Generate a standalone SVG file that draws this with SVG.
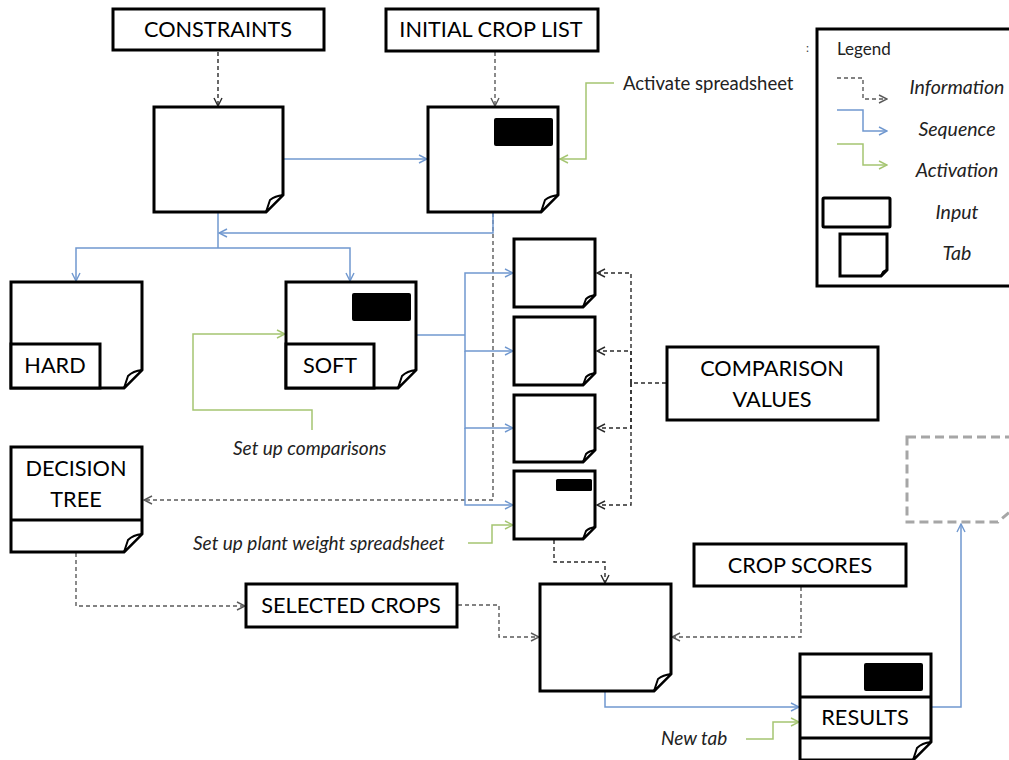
<svg xmlns="http://www.w3.org/2000/svg" width="1009" height="760" viewBox="0 0 1009 760">
<defs>
<style>
.box{fill:#fff;stroke:#000;stroke-width:3}
.fold{fill:#fff;stroke:#000;stroke-width:2;stroke-linejoin:round}
.blk{fill:#000}
.lbl{font-family:Lato,"Liberation Sans",sans-serif;font-size:21.7px;fill:#000;text-anchor:middle}
.it{font-family:Lato,"Liberation Sans",sans-serif;font-size:19px;font-style:italic;fill:#222}
.nt{font-family:Lato,"Liberation Sans",sans-serif;font-size:18.5px;fill:#222}
.lg{font-family:Lato,"Liberation Sans",sans-serif;font-size:19.5px;font-style:italic;fill:#222;text-anchor:middle}
.seq{fill:none;stroke:#7098cf;stroke-width:1.5}
.act{fill:none;stroke:#a5c571;stroke-width:1.5}
.inf{fill:none;stroke:#5a5a5a;stroke-width:1.4;stroke-dasharray:4 3}
.infk{fill:none;stroke:#2a2a2a;stroke-width:1.4;stroke-dasharray:4 3}
</style>
<marker id="aB" viewBox="0 0 10 10" refX="9" refY="5" markerWidth="10" markerHeight="10" markerUnits="userSpaceOnUse" orient="auto"><path d="M1,1 L9,5 L1,9" fill="none" stroke="#7098cf" stroke-width="1.4"/></marker>
<marker id="aG" viewBox="0 0 10 10" refX="9" refY="5" markerWidth="10" markerHeight="10" markerUnits="userSpaceOnUse" orient="auto"><path d="M1,1 L9,5 L1,9" fill="none" stroke="#a5c571" stroke-width="1.4"/></marker>
<marker id="aI" viewBox="0 0 10 10" refX="9" refY="5" markerWidth="10" markerHeight="10" markerUnits="userSpaceOnUse" orient="auto"><path d="M1,1 L9,5 L1,9" fill="none" stroke="#5a5a5a" stroke-width="1.4"/></marker>
<marker id="aK" viewBox="0 0 10 10" refX="9" refY="5" markerWidth="10" markerHeight="10" markerUnits="userSpaceOnUse" orient="auto"><path d="M1,1 L9,5 L1,9" fill="none" stroke="#2a2a2a" stroke-width="1.4"/></marker>
</defs>
<rect width="1009" height="760" fill="#fff"/>

<g id="connectors">
<path class="infk" d="M218,52 V106" marker-end="url(#aK)"/>
<path class="inf" d="M495,52 V106" marker-end="url(#aI)"/>
<path class="seq" d="M284,159 H427" marker-end="url(#aB)"/>
<path class="act" d="M614,83 H586 V159 H560" marker-end="url(#aG)"/>
<path class="inf" d="M493,213 V500 H144" marker-end="url(#aI)"/>
<path class="seq" d="M493,213 V233 H219" marker-end="url(#aB)"/>
<path class="seq" d="M218,213 V248"/>
<path class="seq" d="M218,248 H76 V281" marker-end="url(#aB)"/>
<path class="seq" d="M218,248 H350 V281" marker-end="url(#aB)"/>
<path class="seq" d="M417,335 H465"/>
<path class="seq" d="M465,335 V273 H513" marker-end="url(#aB)"/>
<path class="seq" d="M465,335 V351 H513" marker-end="url(#aB)"/>
<path class="seq" d="M465,351 V428 H513" marker-end="url(#aB)"/>
<path class="seq" d="M465,428 V505 H513" marker-end="url(#aB)"/>
<path class="infk" d="M666,383 H631"/>
<path class="infk" d="M631,383 V273 H597" marker-end="url(#aK)"/>
<path class="infk" d="M631,383 V351 H597" marker-end="url(#aK)"/>
<path class="infk" d="M631,383 V428 H597" marker-end="url(#aK)"/>
<path class="infk" d="M631,383 V505 H597" marker-end="url(#aK)"/>
<path class="act" d="M312,430 V410 H193 V334 H285" marker-end="url(#aG)"/>
<path class="act" d="M468,543 H492 V525 H513" marker-end="url(#aG)"/>
<path class="inf" d="M76,553 V606 H245" marker-end="url(#aI)"/>
<path class="inf" d="M458,605 H499 V637 H539" marker-end="url(#aI)"/>
<path class="infk" d="M554,540 V562 H605 V583" marker-end="url(#aK)"/>
<path class="inf" d="M801,587 V637 H672" marker-end="url(#aI)"/>
<path class="seq" d="M605,692 V707 H799" marker-end="url(#aB)"/>
<path class="act" d="M746,739 H773 V722 H799" marker-end="url(#aG)"/>
<path class="seq" d="M932,707 H961 V524" marker-end="url(#aB)"/>
</g>

<g id="constraints">
<rect class="box" x="113" y="9" width="211" height="41"/>
<text class="lbl" x="218" y="37">CONSTRAINTS</text>
</g>
<g id="initial-crop-list">
<rect class="box" x="386" y="9" width="212" height="42"/>
<text class="lbl" x="491" y="37">INITIAL CROP LIST</text>
</g>

<g id="constraints-tab">
<path class="box" d="M154,107 H283 V195 L266,212 H154 Z"/>
<path class="fold" d="M266,212 L270,200 Q275,196 283,195 Z"/>
</g>
<g id="initial-tab">
<path class="box" d="M428,107 H558 V195 L541,212 H428 Z"/>
<path class="fold" d="M541,212 L545,200 Q550,196 558,195 Z"/>
<rect class="blk" x="494" y="118" width="59" height="28" rx="2"/>
</g>

<g id="hard">
<path class="box" d="M11,282 H142 V370 L124,388 H11 Z"/>
<path class="fold" d="M124,388 L128,376 Q133,371 142,370 Z"/>
<rect class="box" x="11" y="344" width="89" height="44"/>
<text class="lbl" x="55" y="373">HARD</text>
</g>
<g id="soft">
<path class="box" d="M286,282 H416 V370 L398,388 H286 Z"/>
<path class="fold" d="M398,388 L402,376 Q407,371 416,370 Z"/>
<rect class="blk" x="352" y="293" width="59" height="28" rx="2"/>
<rect class="box" x="286" y="344" width="88" height="44"/>
<text class="lbl" x="330" y="373">SOFT</text>
</g>
<g id="decision-tree">
<path class="box" d="M11,447 H142 V534 L124,552 H11 Z"/>
<path class="fold" d="M124,552 L128,540 Q133,535 142,534 Z"/>
<line x1="11" y1="520" x2="142" y2="520" stroke="#000" stroke-width="3"/>
<text class="lbl" x="76" y="476">DECISION</text>
<text class="lbl" x="76" y="507">TREE</text>
</g>

<g id="tab1">
<path class="box" d="M514,239 H595 V295 L583,307 H514 Z"/>
<path class="fold" d="M583,307 L586,299 Q589,296 595,295 Z"/>
</g>
<g id="tab2">
<path class="box" d="M514,317 H595 V373 L583,385 H514 Z"/>
<path class="fold" d="M583,385 L586,377 Q589,374 595,373 Z"/>
</g>
<g id="tab3">
<path class="box" d="M514,395 H595 V450 L583,462 H514 Z"/>
<path class="fold" d="M583,462 L586,454 Q589,451 595,450 Z"/>
</g>
<g id="tab4">
<path class="box" d="M514,471 H595 V527 L583,539 H514 Z"/>
<path class="fold" d="M583,539 L586,531 Q589,528 595,527 Z"/>
<rect class="blk" x="556" y="479" width="36" height="12" rx="1.5"/>
</g>

<g id="comparison-values">
<rect class="box" x="667" y="347" width="211" height="73"/>
<text class="lbl" x="772" y="376">COMPARISON</text>
<text class="lbl" x="772" y="407">VALUES</text>
</g>
<g id="selected-crops">
<rect class="box" x="246" y="584" width="211" height="43"/>
<text class="lbl" x="351" y="613">SELECTED CROPS</text>
</g>
<g id="crop-scores">
<rect class="box" x="694" y="544" width="212" height="42"/>
<text class="lbl" x="800" y="573">CROP SCORES</text>
</g>
<g id="score-tab">
<path class="box" d="M540,584 H671 V674 L654,691 H540 Z"/>
<path class="fold" d="M654,691 L658,679 Q663,675 671,674 Z"/>
</g>
<g id="results">
<path class="box" d="M800,654 H931 V742 L913,760 H800 Z"/>
<path class="fold" d="M913,760 L917,748 Q922,743 931,742 Z"/>
<rect class="blk" x="864" y="663" width="59" height="28" rx="2"/>
<line x1="800" y1="697" x2="931" y2="697" stroke="#000" stroke-width="3"/>
<line x1="800" y1="738" x2="931" y2="738" stroke="#000" stroke-width="3"/>
<text class="lbl" x="865" y="725">RESULTS</text>
</g>
<g id="future-tab">
<path d="M907,437 H1012 V510 L998,522 H907 Z" fill="none" stroke="#a6a6a6" stroke-width="3" stroke-dasharray="9 5"/>
</g>

<g id="labels">
<text class="nt" x="623" y="90">Activate spreadsheet</text>
<text class="it" x="233" y="455">Set up comparisons</text>
<text class="it" x="193" y="550">Set up plant weight spreadsheet</text>
<text class="it" x="661" y="745">New tab</text>
</g>

<g id="legend">
<text x="806" y="52" style="font-family:Lato,sans-serif;font-size:12px;fill:#444">:</text>
<rect x="817" y="29" width="200" height="257" fill="none" stroke="#000" stroke-width="3"/>
<text class="nt" x="837" y="55" style="font-size:17px">Legend</text>
<path class="inf" d="M837,78 H863 V99 H887" marker-end="url(#aI)"/>
<path class="seq" d="M837,110 H863 V131 H887" marker-end="url(#aB)"/>
<path class="act" d="M837,144 H863 V165 H887" marker-end="url(#aG)"/>
<rect class="box" x="823" y="198" width="67" height="29" rx="1"/>
<path class="box" d="M840,234 H887 V270 L881,276 H840 Z"/>
<path class="fold" d="M881,276 L883,272 Q884,271 887,270 Z"/>
<text class="lg" x="957" y="94">Information</text>
<text class="lg" x="957" y="136">Sequence</text>
<text class="lg" x="957" y="177">Activation</text>
<text class="lg" x="957" y="219">Input</text>
<text class="lg" x="957" y="260">Tab</text>
</g>
</svg>
